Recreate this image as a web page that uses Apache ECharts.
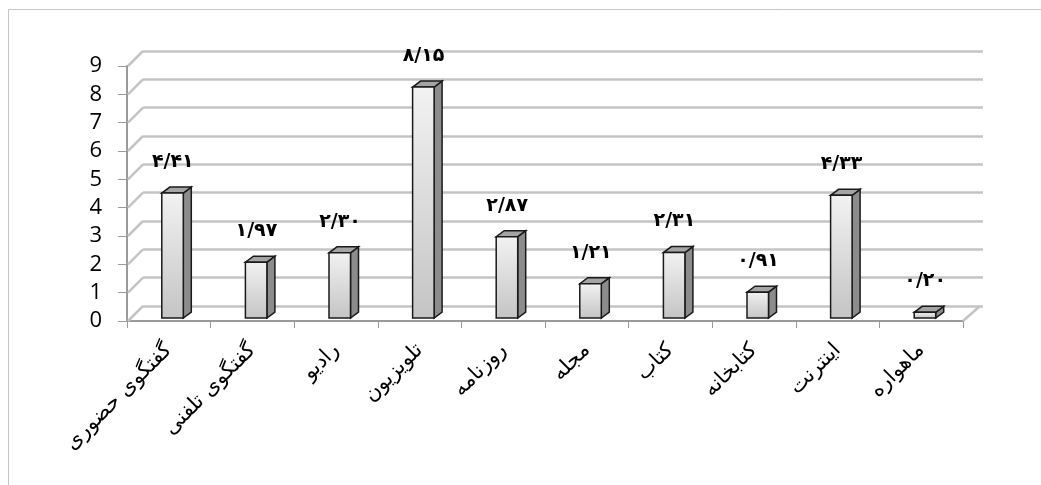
<!DOCTYPE html>
<html>
<head>
<meta charset="utf-8">
<script src="https://cdn.jsdelivr.net/npm/echarts@6/dist/echarts.min.js"></script>
<style>html,body{margin:0;padding:0;background:#fff;}#c{width:1041px;height:485px;}</style>
</head>
<body>
<div id="c"></div>
<script>
const categories = ['گفتگوی حضوری','گفتگوی تلفنی','رادیو','تلویزیون','روزنامه','مجله','کتاب','کتابخانه','اینترنت','ماهواره'];
const values = [4.41, 1.97, 2.30, 8.15, 2.87, 1.21, 2.31, 0.91, 4.33, 0.20];
const yTicks = [0,1,2,3,4,5,6,7,8,9];

const faDigits = '۰۱۲۳۴۵۶۷۸۹';
function toFa(v){ return v.toFixed(2).replace(/\d/g, d => faDigits[d]).replace('.', '/'); }

const chart = echarts.init(document.getElementById('c'));
const DX = 8, DY = 6, SHIFT = 3;
const option = {
  animation: false,
  graphic: [{type:'rect', shape:{x:8.5,y:9.5,width:1200,height:600}, style:{fill:'none', stroke:'#c6c6c6', lineWidth:1}, silent:true, z:-10}],
  grid: [
    {left:127, right:78, top:66, bottom:164},
    {left:143, right:58, top:51, bottom:179}
  ],
  xAxis: [
    {type:'category', gridIndex:0, data:categories, boundaryGap:true,
     axisLine:{show:true, lineStyle:{color:'#9a9a9a', width:2}},
     axisTick:{show:true, length:7, interval:0, lineStyle:{color:'#9a9a9a', width:1}},
     axisLabel:{interval:0, rotate:45, margin:26, fontFamily:'DejaVu Sans', fontSize:21, color:'#000'},
     splitLine:{show:false}},
    {type:'category', gridIndex:1, data:categories, show:false}
  ],
  yAxis: [
    {type:'value', gridIndex:0, min:0, max:9, interval:1,
     axisLine:{show:true, lineStyle:{color:'#9a9a9a', width:2}},
     axisTick:{show:true, length:9, lineStyle:{color:'#9a9a9a', width:1}},
     axisLabel:{margin:25, fontFamily:'Open Sans', fontSize:22, color:'#000'},
     splitLine:{show:false}},
    {type:'value', gridIndex:1, min:0, max:9, interval:1,
     axisLine:{show:false}, axisTick:{show:false}, axisLabel:{show:false},
     splitLine:{show:true, lineStyle:{color:'#c4c4c4', width:2.5}}}
  ],
  series: [
    {
      type:'custom', xAxisIndex:0, yAxisIndex:0, z:1, silent:true,
      data: yTicks.map(v => [0, v]),
      renderItem: function(params, api){
        const cs = params.coordSys;
        const y = api.coord([0, api.value(1)])[1];
        const children = [{type:'line', shape:{x1:cs.x+1, y1:y, x2:cs.x+16, y2:y-15}, style:{stroke:'#c4c4c4', lineWidth:2.5}}];
        if (api.value(1) === 0) {
          children.push({type:'line', shape:{x1:cs.x+cs.width, y1:y, x2:cs.x+cs.width+17, y2:y-15}, style:{stroke:'#c4c4c4', lineWidth:2.5}});
        }
        return {type:'group', children};
      }
    },
    {
      type:'custom', xAxisIndex:0, yAxisIndex:0, z:5, silent:true,
      data: values.map((v, i) => [i, v]),
      renderItem: function(params, api){
        const idx = api.value(0), val = api.value(1);
        const base = api.coord([idx, 0]);
        const top = api.coord([idx, val]);
        const cx = base[0];
        const l = cx - 7, r = cx + 14.5;
        const yb = base[1] - SHIFT, yt = top[1] - SHIFT;
        const stroke = '#1a1a1a';
        return {type:'group', children:[
          {type:'polygon', shape:{points:[[r,yt],[r+DX,yt-DY],[r+DX,yb-DY],[r,yb]]}, style:{fill:'#8c8c8c', stroke, lineWidth:1.5}},
          {type:'polygon', shape:{points:[[l,yt],[r,yt],[r+DX,yt-DY],[l+DX,yt-DY]]}, style:{fill:'#a4a4a4', stroke, lineWidth:1.5}},
          {type:'rect', shape:{x:l, y:yt, width:r-l, height:yb-yt}, style:{fill:new echarts.graphic.LinearGradient(0,0,0,1,[{offset:0,color:'#f2f2f2'},{offset:1,color:'#c4c4c4'}]), stroke, lineWidth:1.5}},
          {type:'text', x:cx+4, y:yt-31, style:{text:toFa(val), fill:'#000', font:'bold 19px "DejaVu Sans"', align:'center', verticalAlign:'middle'}}
        ]};
      }
    }
  ]
};
chart.setOption(option);
</script>
</body>
</html>
